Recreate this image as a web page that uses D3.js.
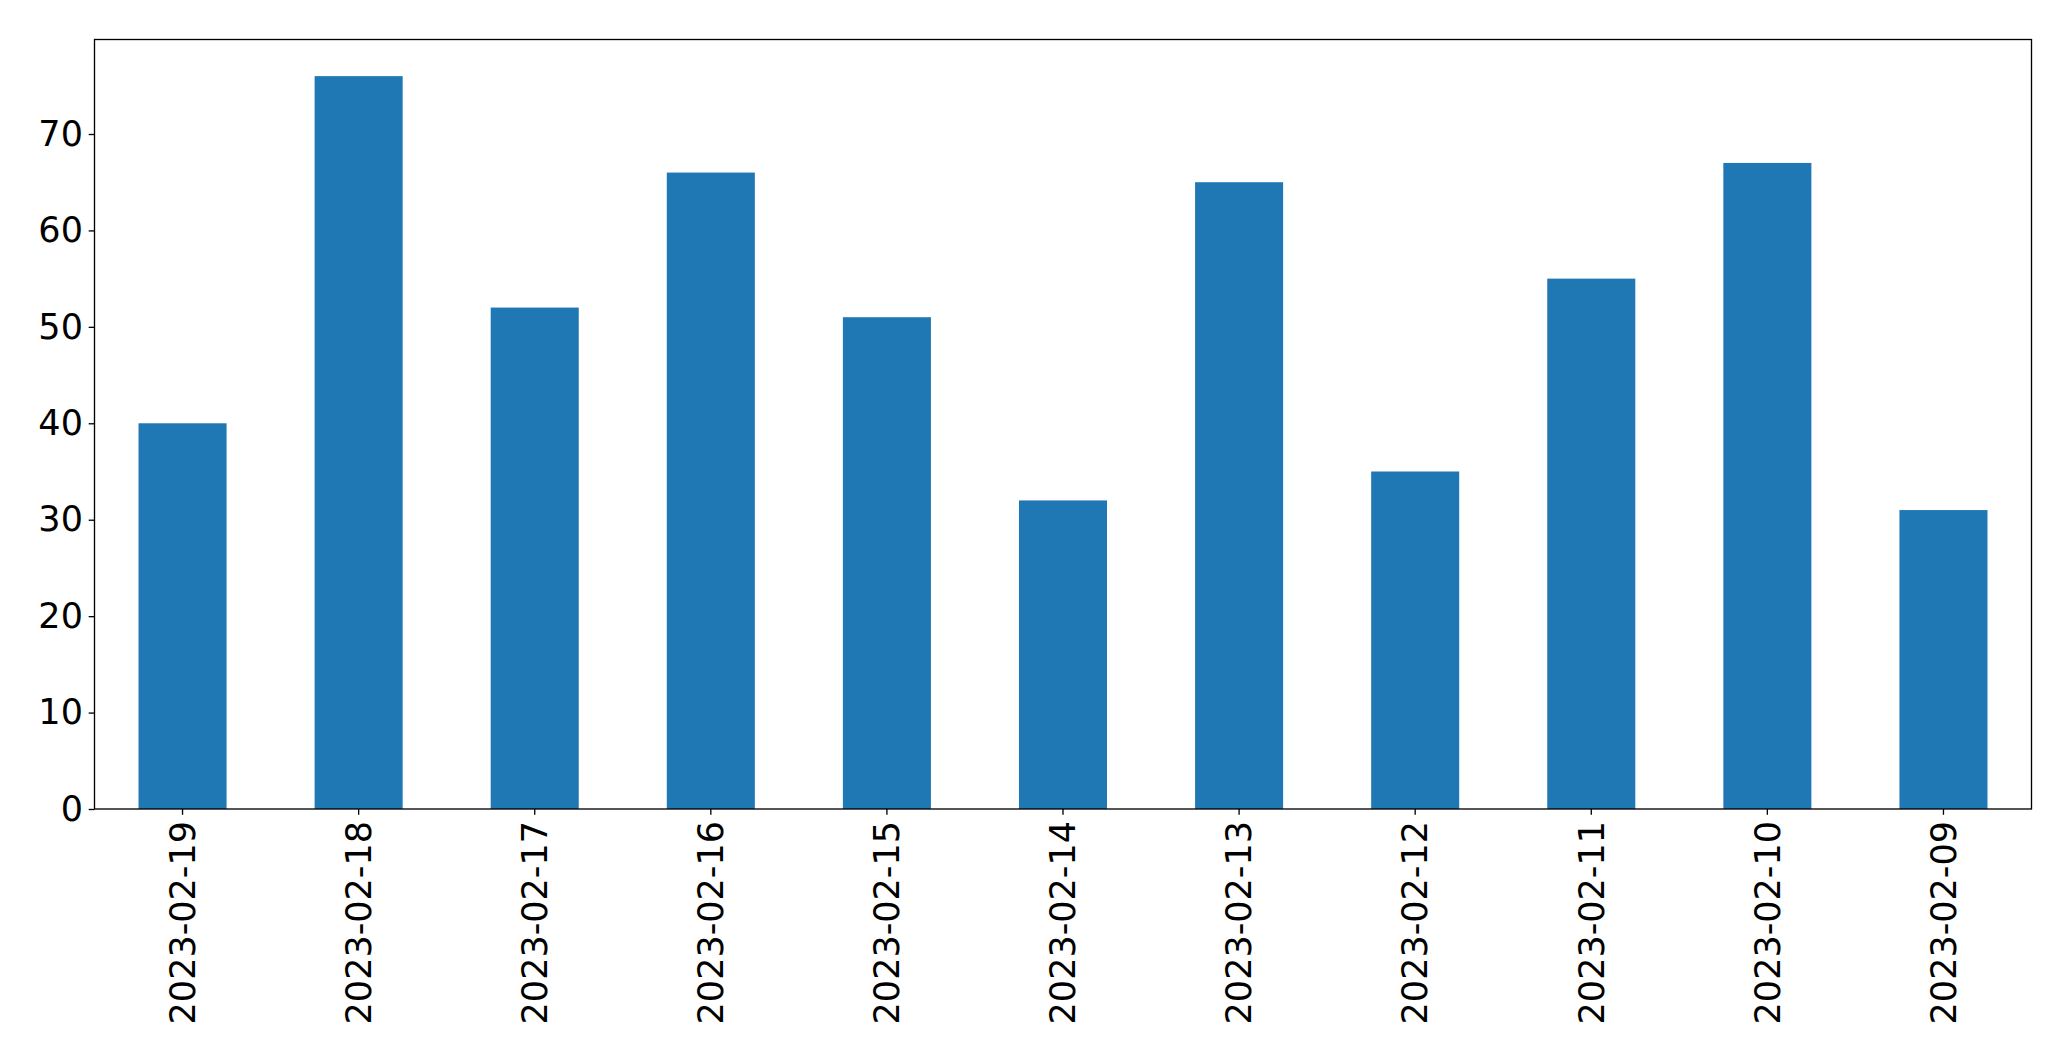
<!DOCTYPE html>
<html>
  <head>
    <meta charset="UTF-8">
    <title>Daily counts</title>
    <style type="text/css">
      body { margin: 0; background: #fff; }
      .axis text { font-family: 'DejaVu Sans'; font-size: 35px; fill: #000; }
      .axis line, .axis path { stroke: #000; stroke-width: 1.33; }
    </style>
  </head>
  <body>
    <script src="https://d3js.org/d3.v7.min.js"></script>
    <script>

      // Data
      var dates = ["2023-02-19", "2023-02-18", "2023-02-17", "2023-02-16", "2023-02-15",
                   "2023-02-14", "2023-02-13", "2023-02-12", "2023-02-11", "2023-02-10",
                   "2023-02-09"];
      var counts = [40, 76, 52, 66, 51, 32, 65, 35, 55, 67, 31];
      var yTicks = [0, 10, 20, 30, 40, 50, 60, 70];

      // Build svg and canvas
      var svgWidth = 2071,
          svgHeight = 1061,
          margin = {top: 39.5, right: 39.5, bottom: 252, left: 94.5},
          width = svgWidth - margin.left - margin.right,
          height = svgHeight - margin.top - margin.bottom;

      var svg = d3.select("body")
                  .append("svg")
                  .attr("width", svgWidth)
                  .attr("height", svgHeight);

      var canvas = svg.append("g")
                      .attr("transform", "translate(" + margin.left + "," + margin.top + ")");

      var data = dates.map((d, i) => ({date: d, value: counts[i]}));

      // Scales
      var xScale = d3.scaleBand()
                     .domain(dates)
                     .range([0, width])
                     .paddingInner(0.5)
                     .paddingOuter(0.25);

      var yScale = d3.scaleLinear()
                     .domain([0, d3.max(counts) * 1.05])
                     .range([height, 0]);

      // Bars
      canvas.selectAll("rect.bar")
            .data(data)
            .enter()
            .append("rect")
            .attr("class", "bar")
            .attr("fill", "#1f77b4")
            .attr("x", d => xScale(d.date))
            .attr("width", xScale.bandwidth())
            .attr("y", d => yScale(d.value))
            .attr("height", d => height - yScale(d.value));

      // Axes
      var yAxis = d3.axisLeft(yScale)
                    .tickValues(yTicks)
                    .tickSize(5.8)
                    .tickPadding(5.8)
                    .tickFormat(d3.format("d"));

      var xAxis = d3.axisBottom(xScale)
                    .tickSize(5.8)
                    .tickSizeOuter(0);

      canvas.append("g")
            .attr("class", "axis")
            .call(yAxis)
            .call(g => g.select(".domain").remove());

      var gx = canvas.append("g")
                     .attr("class", "axis")
                     .attr("transform", "translate(0," + height + ")")
                     .call(xAxis)
                     .call(g => g.select(".domain").remove());

      gx.selectAll("text")
        .attr("transform", "rotate(-90)")
        .attr("x", -12)
        .attr("y", 0)
        .attr("dy", "0.35em")
        .style("text-anchor", "end");

      // Frame
      canvas.append("rect")
            .attr("width", width)
            .attr("height", height)
            .attr("fill", "none")
            .attr("stroke", "#000")
            .attr("stroke-width", 1.33);

    </script>
  </body>
</html>
